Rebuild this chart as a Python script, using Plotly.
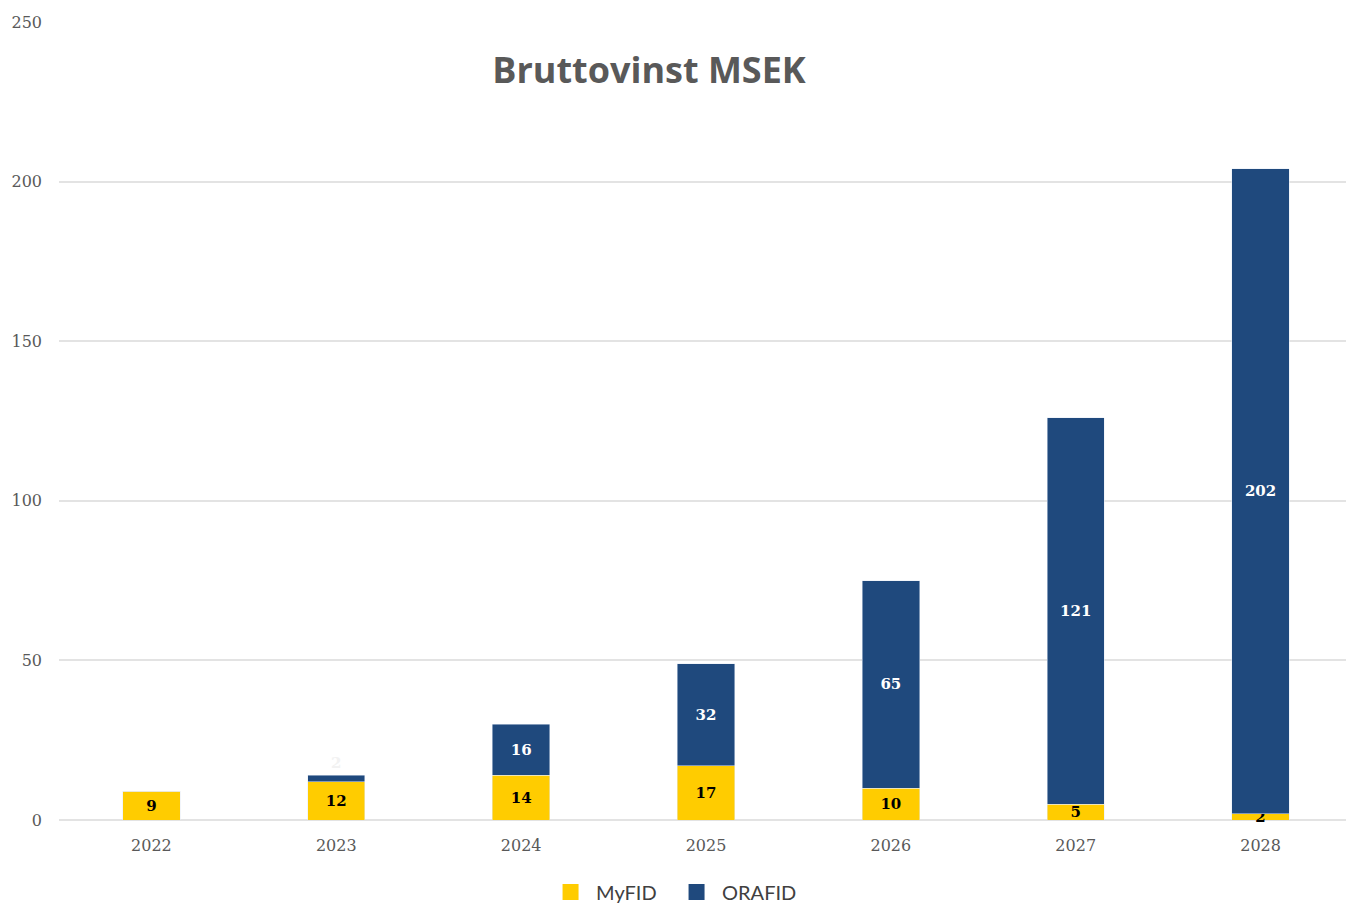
import plotly.graph_objects as go

years = ["2022", "2023", "2024", "2025", "2026", "2027", "2028"]
myfid = [9, 12, 14, 17, 10, 5, 2]
orafid = [0, 2, 16, 32, 65, 121, 202]
y_ticks = [0, 50, 100, 150, 200, 250]

orafid_text = ["" if v == 0 else str(v) for v in orafid]
orafid_pos = ["outside" if v < 5 else "inside" for v in orafid]

YELLOW = "#FFCC00"
BLUE = "#1F497D"

fig = go.Figure()
fig.add_trace(go.Bar(
    name="MyFID", x=years, y=myfid, marker_color=YELLOW, showlegend=False,
    text=[str(v) for v in myfid], textposition="inside", insidetextanchor="middle",
    textangle=0, texttemplate="<b>%{text}</b>",
    textfont=dict(family="DejaVu Serif", size=15, color="black"),
    constraintext="none", cliponaxis=False,
))
fig.add_trace(go.Bar(
    name="ORAFID", x=years, y=orafid, marker_color=BLUE, showlegend=False,
    text=orafid_text, textposition=orafid_pos, insidetextanchor="middle",
    textangle=0, texttemplate="<b>%{text}</b>",
    textfont=dict(family="DejaVu Serif", size=15, color="white"),
    outsidetextfont=dict(family="DejaVu Serif", size=15, color="#f2f2f2"),
    constraintext="none", cliponaxis=False,
))
for name, col in [("MyFID", YELLOW), ("ORAFID", BLUE)]:
    fig.add_trace(go.Scatter(
        name=name, x=[None], y=[None], mode="markers",
        marker=dict(symbol="square", size=17, color=col),
    ))

fig.update_layout(
    barmode="stack",
    bargap=0.69,
    width=1354, height=903,
    margin=dict(l=51, r=9, t=14, b=91, autoexpand=False),
    plot_bgcolor="white", paper_bgcolor="white",
    title=dict(text="<b>Bruttovinst MSEK</b>", x=0.4734, xanchor="center", y=0.931, yanchor="middle",
               font=dict(family="Open Sans", size=36, color="#595959")),
    legend=dict(orientation="h", xref="container", yref="container",
                x=0.4897, xanchor="center", y=0.021, yanchor="middle",
                font=dict(family="Lato", size=20, color="#404040"), traceorder="normal",
                itemsizing="trace", itemwidth=41, entrywidth=70),
    showlegend=True,
)
fig.update_xaxes(showgrid=False, showline=False, ticks="", ticklabelstandoff=14, automargin=False,
                 tickfont=dict(family="DejaVu Serif", size=16, color="#595959"))
fig.update_yaxes(range=[0, 250], tickvals=y_ticks, showgrid=True, gridcolor="#E3E3E3", gridwidth=2,
                 zeroline=True, zerolinecolor="#E3E3E3", zerolinewidth=2, showline=False, ticks="",
                 ticklabelstandoff=16, automargin=False,
                 tickfont=dict(family="DejaVu Serif", size=16, color="#595959"))

fig.write_html("out.html")
